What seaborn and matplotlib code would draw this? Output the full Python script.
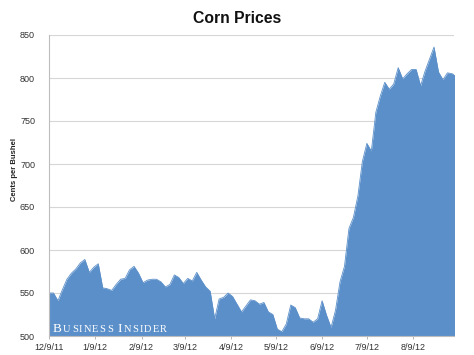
import matplotlib
matplotlib.use('Agg')
import matplotlib.pyplot as plt
import pandas as pd
import seaborn as sns

# 옥수수 가격 (부셸당 센트), 2011-12-09 부터 3일 간격으로 그림에서 읽은 값
prices = [550, 550, 541, 554, 566, 573, 578, 585, 589, 574,
          580, 584, 556, 555, 553, 560, 566, 567, 577, 581,
          573, 562, 565, 566, 566, 563, 557, 560, 571, 568,
          561, 567, 564, 574, 565, 557, 552, 520, 543, 545,
          550, 546, 537, 528, 535, 542, 541, 537, 539, 528,
          525, 508, 505, 514, 536, 533, 521, 520, 520, 516,
          520, 541, 524, 510, 530, 563, 581, 625, 638, 663,
          703, 724, 715, 760, 779, 795, 787, 793, 812, 799,
          805, 810, 810, 791, 808, 822, 836, 807, 798, 806,
          805, 803]
start_date = '2011-12-09'
tick_dates = ['2011-12-09', '2012-01-09', '2012-02-09', '2012-03-09', '2012-04-09',
              '2012-05-09', '2012-06-09', '2012-07-09', '2012-08-09']
tick_labels = ['12/9/11', '1/9/12', '2/9/12', '3/9/12', '4/9/12',
               '5/9/12', '6/9/12', '7/9/12', '8/9/12']
y_ticks = [500, 550, 600, 650, 700, 750, 800, 850]

dates = pd.date_range(start_date, periods=len(prices), freq='3D')
df = pd.DataFrame({'date': dates, 'price': prices})

sns.set_style('white')
plt.rcParams['font.family'] = ['Liberation Sans', 'DejaVu Sans']

W, H = 474, 355
blue = '#5b8fc9'
fig = plt.figure(figsize=(W / 100, H / 100), dpi=100)
ax = fig.add_axes([49 / W, 19 / H, 405 / W, 301 / H])

sns.lineplot(data=df, x='date', y='price', ax=ax, color=blue, linewidth=0.6)
ax.fill_between(df['date'], df['price'], y_ticks[0], color=blue, linewidth=0)

ax.set_xlim(pd.Timestamp(start_date), pd.Timestamp(start_date) + pd.Timedelta(days=271.4))
ax.set_ylim(y_ticks[0], y_ticks[-1])
ax.set_yticks(y_ticks)
ax.set_xticks(pd.to_datetime(tick_dates))
ax.set_xticklabels(tick_labels)
ax.set_xlabel('')
ax.set_ylabel('')

ax.set_axisbelow(True)
ax.yaxis.grid(True, color='#d6d6d6', linewidth=0.8)
ax.xaxis.grid(False)
for side in ['top', 'right']:
    ax.spines[side].set_visible(False)
for side in ['left', 'bottom']:
    ax.spines[side].set_color('#bdbdbd')
    ax.spines[side].set_linewidth(0.8)

ax.tick_params(axis='y', left=False, length=0, pad=10, labelsize=6.5, labelcolor='#333333')
ax.tick_params(axis='x', bottom=True, length=2, width=0.6, color='#aaaaaa', pad=3,
               labelsize=6.5, labelcolor='#333333')

fig.text(0.5, (H - 23.3) / H, 'Corn Prices', ha='center', va='baseline',
         fontsize=11.3, fontweight='bold', color='#111111')
fig.text(15 / W, 185.5 / H, 'Cents per Bushel', rotation=90, ha='center', va='center',
         fontsize=5.5, fontweight='bold', color='#222222')

# 워터마크 (스몰캡스 흉내)
renderer = fig.canvas.get_renderer()
x = 53
for word in ['Business', 'Insider']:
    for i, ch in enumerate(word.upper()):
        t = fig.text(x / W, 23.5 / H, ch, fontsize=9.5 if i == 0 else 7.5,
                     family='Liberation Serif', color='white', va='baseline')
        x += t.get_window_extent(renderer).width + 1.2
    x += 4

fig.savefig('out.png', dpi=100)
